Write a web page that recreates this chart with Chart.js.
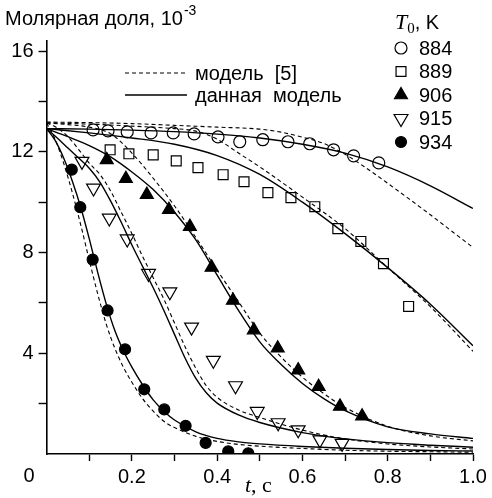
<!DOCTYPE html>
<html><head><meta charset="utf-8">
<script src="https://cdn.jsdelivr.net/npm/chart.js@4/dist/chart.umd.min.js"></script>
<style>html,body{margin:0;padding:0;background:#fff}</style>
</head><body>
<canvas id="c" width="492" height="498"></canvas>
<script>
// ---- tick labels ----
const yTickLabels = [4, 8, 12, 16];
const xTickLabels = [0.2, 0.4, 0.6, 0.8, 1.0];
const tempLabels = ['884', '889', '906', '915', '934'];

// ---- experimental points ----
const t884 = [0.109,0.144,0.189,0.245,0.297,0.346,0.402,0.453,0.507,0.566,0.617,0.673,0.720,0.779];
const v884 = [12.87,12.83,12.79,12.75,12.75,12.71,12.59,12.40,12.48,12.40,12.32,12.08,11.84,11.56];
const t889 = [0.149,0.193,0.250,0.304,0.355,0.414,0.463,0.519,0.573,0.629,0.683,0.737,0.790,0.849];
const v889 = [12.08,11.92,11.88,11.64,11.37,11.09,10.81,10.38,10.18,9.82,8.95,8.44,7.56,5.86];
const t906 = [0.141,0.186,0.235,0.287,0.336,0.387,0.437,0.486,0.542,0.590,0.638,0.688,0.740];
const v906 = [11.68,10.93,10.30,9.70,9.03,7.41,6.10,4.92,4.20,3.33,2.67,1.89,1.50];
const t915 = [0.083,0.110,0.147,0.189,0.239,0.289,0.340,0.391,0.443,0.494,0.543,0.590,0.641,0.693];
const v915 = [11.62,10.56,9.37,8.54,7.17,6.44,5.04,3.72,2.71,1.69,1.24,0.96,0.56,0.42];
const t934 = [0.059,0.079,0.108,0.143,0.184,0.229,0.276,0.326,0.373,0.426,0.473];
const v934 = [11.29,9.80,7.72,5.70,4.16,2.57,1.77,1.12,0.44,0.11,0.03];

// ---- model curves: "данная модель" (solid) and "модель [5]" (dashed) ----
const tc884 = [0,0.1,0.2,0.3,0.4,0.5,0.6,0.7,0.8,0.9,1.0];
const s884 = [12.92,12.9,12.86,12.8,12.7,12.55,12.3,11.95,11.4,10.65,9.75];
const tc884d = [0,0.1,0.2,0.3,0.4,0.5,0.55,0.6,0.65,0.7,0.75,0.8,0.85,0.9,0.95,1.0];
const d884 = [13.18,13.16,13.12,13.05,12.98,12.9,12.78,12.58,12.33,11.9,11.35,10.75,10.13,9.5,8.85,8.2];

const tc889 = [0,0.1,0.2,0.3,0.4,0.5,0.6,0.7,0.8,0.9,1.0];
const s889 = [12.92,12.75,12.55,12.3,11.85,11.1,10.0,8.75,7.4,5.95,4.3];
const tc889d = [0,0.1,0.2,0.3,0.35,0.4,0.45,0.5,0.6,0.7,0.8,0.9,1.0];
const d889 = [13.15,13.1,13.02,12.92,12.82,12.5,11.95,11.4,10.2,8.95,7.4,5.85,4.08];

const tc906 = [0,0.05,0.1,0.15,0.2,0.25,0.3,0.35,0.4,0.45,0.5,0.55,0.6,0.65,0.7,0.8,0.9,1.0];
const s906 = [12.92,12.6,12.25,11.8,11.2,10.5,9.6,8.5,7.1,5.7,4.45,3.55,2.8,2.2,1.72,1.08,0.8,0.62];
const d906 = [13.15,13.08,12.98,12.72,11.95,10.95,9.85,8.6,7.3,6.05,4.8,3.85,3.05,2.4,1.85,1.1,0.72,0.52];

const tc915 = [0,0.025,0.05,0.075,0.1,0.125,0.15,0.175,0.2,0.225,0.25,0.275,0.3,0.325,0.35,0.375,0.4,0.45,0.5,0.6,0.7,0.8,0.9,1.0];
const s915 = [12.92,12.55,12.15,11.75,11.35,10.8,10.05,9.2,8.3,7.45,6.6,5.7,4.75,3.8,3.0,2.42,2.02,1.55,1.25,0.85,0.6,0.45,0.35,0.27];
const d915 = [13.15,12.95,12.6,12.1,11.55,11.1,10.45,9.6,8.75,7.85,7.0,6.15,5.2,4.25,3.4,2.7,2.25,1.75,1.45,0.95,0.6,0.4,0.28,0.2];

const tc934 = [0,0.02,0.04,0.06,0.08,0.1,0.12,0.14,0.16,0.18,0.2,0.225,0.25,0.275,0.3,0.35,0.4,0.45,0.5,0.6,0.7,0.8,0.9,1.0];
const s934 = [12.92,12.45,11.75,10.85,9.8,8.55,7.2,5.95,4.9,4.1,3.45,2.75,2.15,1.7,1.35,0.88,0.62,0.48,0.4,0.3,0.23,0.18,0.14,0.12];
const d934 = [13.15,12.5,11.55,10.4,9.1,7.7,6.35,5.15,4.2,3.45,2.85,2.2,1.7,1.3,1.05,0.7,0.5,0.38,0.31,0.22,0.15,0.11,0.09,0.07];

const zip = (xs, ys) => xs.map((x, i) => ({x: x, y: ys[i]}));

function curve(xs, ys, dashed) {
  return {
    data: zip(xs, ys), showLine: true, pointRadius: 0, borderColor: '#000',
    borderWidth: dashed ? 1.1 : 1.4, borderDash: dashed ? [4, 3] : [],
    cubicInterpolationMode: 'monotone', fill: false, order: 2
  };
}
function pts(xs, ys, style, r, filled, rot) {
  return {
    data: zip(xs, ys), showLine: false, pointStyle: style, pointRadius: r,
    pointRotation: rot || 0, pointBorderColor: '#000', pointBorderWidth: 1.2,
    pointBackgroundColor: filled ? '#000' : 'rgba(0,0,0,0)', order: 1
  };
}

const markerDefs = [
  {style: 'circle', r: 6, filled: false, rot: 0},
  {style: 'rect', r: 7, filled: false, rot: 0},
  {style: 'triangle', r: 7.5, filled: true, rot: 0},
  {style: 'triangle', r: 8, filled: false, rot: 180},
  {style: 'circle', r: 5.5, filled: true, rot: 0}
];

const datasets = [
  curve(tc884d, d884, true), curve(tc884, s884, false),
  curve(tc889d, d889, true), curve(tc889, s889, false),
  curve(tc906, d906, true), curve(tc906, s906, false),
  curve(tc915, d915, true), curve(tc915, s915, false),
  curve(tc934, d934, true), curve(tc934, s934, false),
  pts(t884, v884, 'circle', 6, false),
  pts(t889, v889, 'rect', 7, false),
  pts(t906, v906, 'triangle', 7.5, true),
  pts(t915, v915, 'triangle', 8, false, 180),
  pts(t934, v934, 'circle', 5.5, true)
];

function drawMarker(ctx, m, x, y) {
  ctx.save();
  ctx.lineWidth = 1.2; ctx.strokeStyle = '#000';
  ctx.fillStyle = m.filled ? '#000' : 'rgba(0,0,0,0)';
  ctx.beginPath();
  if (m.style === 'circle') {
    ctx.arc(x, y, m.r, 0, Math.PI * 2);
  } else if (m.style === 'rect') {
    const s = m.r * Math.SQRT1_2;
    ctx.rect(x - s, y - s, 2 * s, 2 * s);
  } else {
    let a = m.rot * Math.PI / 180;
    for (let k = 0; k < 3; k++) {
      const px = x + Math.sin(a) * m.r, py = y - Math.cos(a) * m.r;
      if (k === 0) ctx.moveTo(px, py); else ctx.lineTo(px, py);
      a += 2 * Math.PI / 3;
    }
    ctx.closePath();
  }
  ctx.fill(); ctx.stroke();
  ctx.restore();
}

const SANS = '"Liberation Sans", Arial, sans-serif';
const SERIF = '"Liberation Serif", "Times New Roman", serif';

const decor = {
  id: 'decor',
  afterDraw(chart) {
    const ctx = chart.ctx;
    ctx.save();
    ctx.fillStyle = '#000'; ctx.strokeStyle = '#000';
    ctx.textBaseline = 'alphabetic'; ctx.textAlign = 'left';
    // y axis title
    ctx.font = '20px ' + SANS;
    const tt = 'Молярная доля, 10';
    ctx.fillText(tt, 5, 25);
    const w = ctx.measureText(tt).width;
    ctx.font = '14px ' + SANS;
    ctx.fillText('-3', 5 + w + 1, 15);
    // corner zero
    ctx.font = '20px ' + SANS; ctx.textAlign = 'center';
    ctx.fillText('0', 29, 482);
    // x title
    ctx.textAlign = 'left';
    ctx.font = 'italic 22px ' + SERIF;
    ctx.fillText('t', 245, 492);
    const wt = ctx.measureText('t').width;
    ctx.font = '22px ' + SERIF;
    ctx.fillText(', с', 245 + wt, 492);
    // line legend
    ctx.lineWidth = 1.1; ctx.setLineDash([4, 3]);
    ctx.beginPath(); ctx.moveTo(125, 73); ctx.lineTo(187, 73); ctx.stroke();
    ctx.lineWidth = 1.4; ctx.setLineDash([]);
    ctx.beginPath(); ctx.moveTo(125, 95); ctx.lineTo(187, 95); ctx.stroke();
    ctx.font = '20px ' + SANS;
    ctx.fillText('модель  [5]', 195, 80);
    ctx.fillText('данная  модель', 195, 102);
    // T0, K legend
    ctx.font = 'italic 22px ' + SERIF;
    ctx.fillText('T', 395, 29);
    const wT = ctx.measureText('T').width;
    ctx.font = '15px ' + SERIF;
    ctx.fillText('0', 395 + wT, 33);
    const w0 = ctx.measureText('0').width;
    ctx.font = '20px ' + SANS;
    ctx.fillText(', K', 395 + wT + w0, 29);
    const rows = [48, 71.5, 95, 118.5, 142];
    for (let i = 0; i < 5; i++) {
      drawMarker(ctx, markerDefs[i], 401, rows[i]);
      ctx.fillStyle = '#000';
      ctx.font = '20px ' + SANS; ctx.textBaseline = 'middle';
      ctx.fillText(tempLabels[i], 419, rows[i] + 1);
      ctx.textBaseline = 'alphabetic';
    }
    ctx.restore();
  }
};

new Chart(document.getElementById('c'), {
  type: 'line',
  data: { datasets: datasets },
  plugins: [decor],
  options: {
    responsive: false, animation: false, devicePixelRatio: 1,
    layout: { padding: { left: 0, right: 19, top: 41, bottom: 0 } },
    plugins: { legend: { display: false }, tooltip: { enabled: false } },
    scales: {
      x: {
        type: 'linear', min: 0, max: 1,
        afterFit: s => { s.height = 44; },
        border: { display: true, color: '#000', width: 1.6 },
        grid: { display: true, drawOnChartArea: false, drawTicks: true, tickLength: 7, tickWidth: 1.4,
                tickColor: c => (Math.round(c.tick.value * 10) === 0 ? 'rgba(0,0,0,0)' : '#000') },
        ticks: {
          stepSize: 0.1, includeBounds: false, maxRotation: 0, autoSkip: false, padding: 4,
          color: '#000', font: { family: 'Liberation Sans', size: 20 },
          callback: v => { const r = Math.round(v * 10) / 10; return xTickLabels.some(q => Math.abs(q - r) < 1e-6) ? r.toFixed(1) : ''; }
        }
      },
      y: {
        type: 'linear', min: 0, max: 16.4,
        afterFit: s => { s.width = 46.6; },
        border: { display: true, color: '#000', width: 1.6 },
        grid: { display: true, drawOnChartArea: false, drawTicks: true, tickLength: 8, tickWidth: 1.4,
                tickColor: c => (c.tick.value === 0 ? 'rgba(0,0,0,0)' : '#000') },
        ticks: {
          stepSize: 2, includeBounds: false, padding: 5, autoSkip: false,
          color: '#000', font: { family: 'Liberation Sans', size: 20 },
          callback: v => (yTickLabels.indexOf(v) >= 0 ? String(v) : '')
        }
      }
    }
  }
});
</script>
</body></html>
